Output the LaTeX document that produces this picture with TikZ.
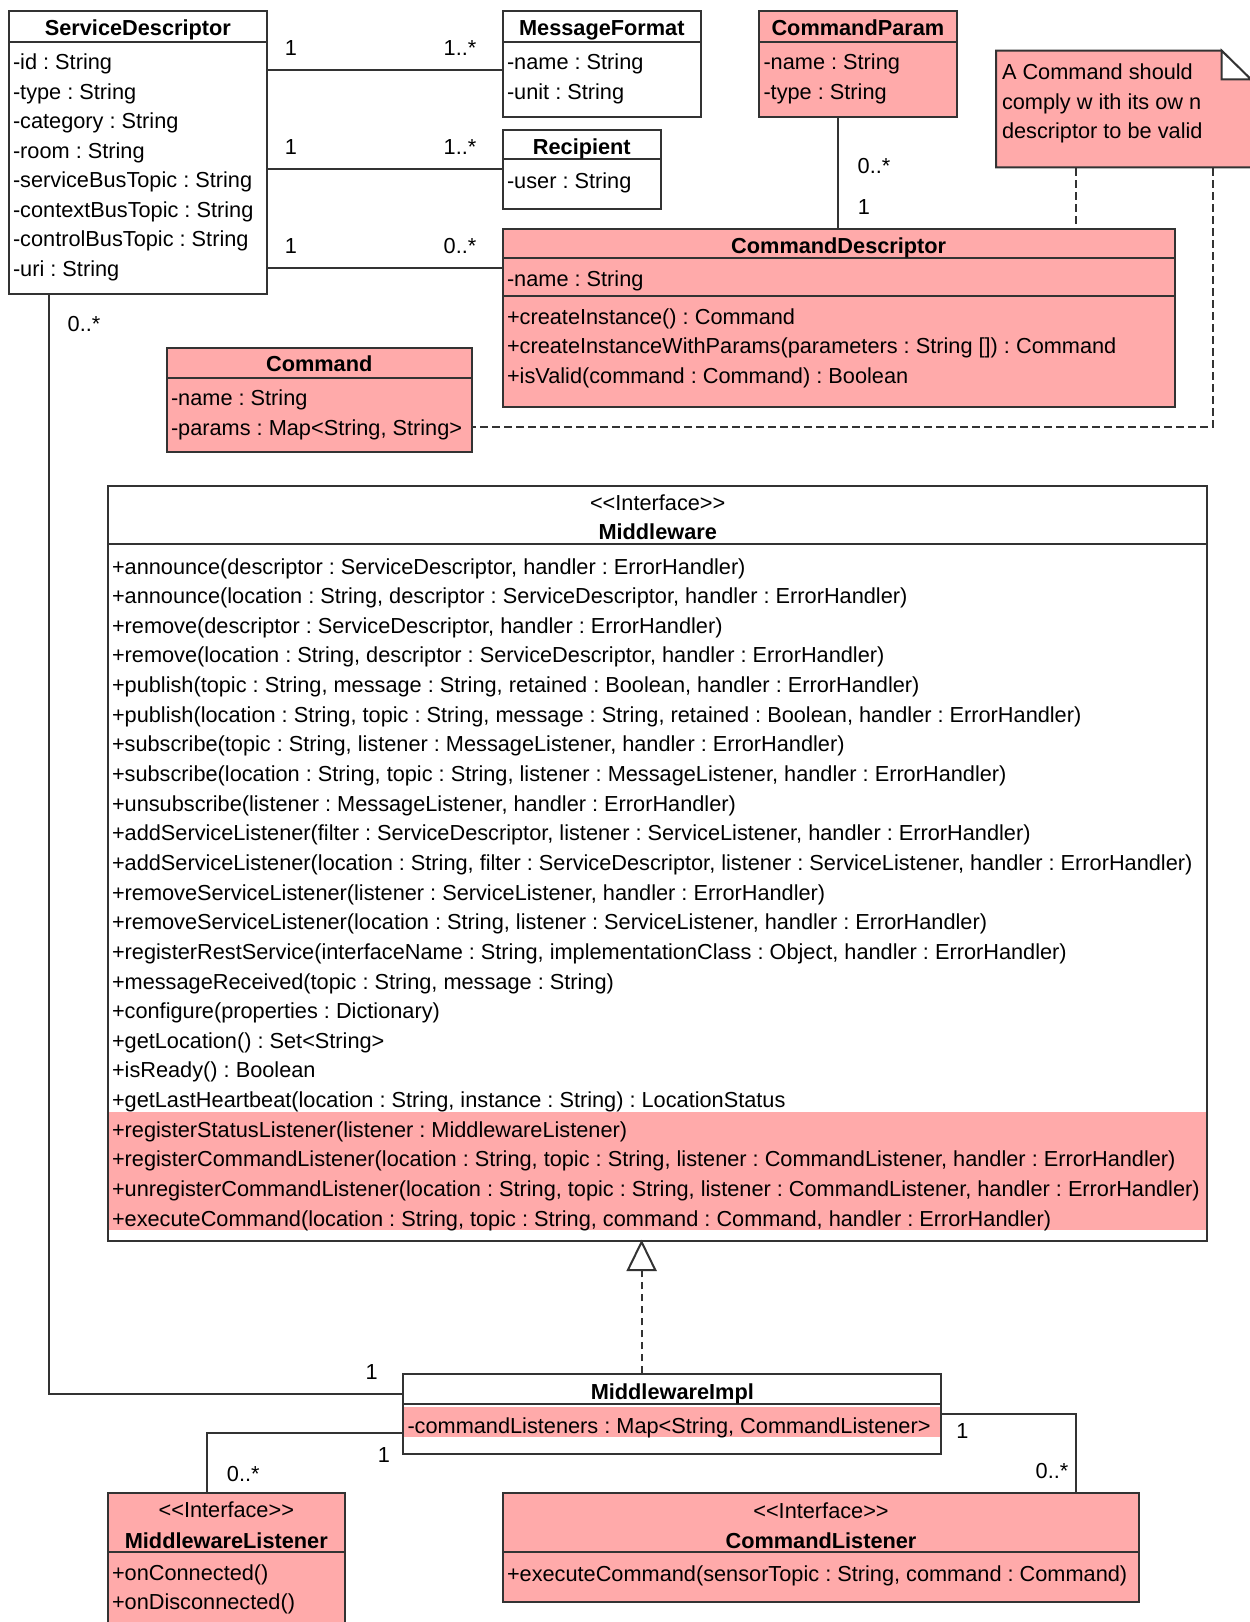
\documentclass[tikz,border=0pt]{standalone}
\usepackage{fontspec}
\setmainfont{Liberation Sans}[Ligatures=TeXOff]
\usetikzlibrary{fit}
\frenchspacing
\definecolor{umlpink}{RGB}{255,170,170}
\definecolor{umlline}{RGB}{51,51,51}
\newcommand\umlsize{\fontsize{16.3}{20}\selectfont}
\tikzset{every picture/.style={line width=1.5pt}}
\tikzset{
  classbox/.style={draw=umlline, inner sep=0pt},
  pinkbox/.style={classbox, fill=umlpink},
  txt/.style={anchor=base west, inner sep=0pt},
  ttl/.style={anchor=base, inner sep=0pt, font=\umlsize\bfseries},
  stereo/.style={anchor=base, inner sep=0pt},
  mult/.style={anchor=base, inner sep=0pt},
  assoc/.style={draw=umlline},
  depend/.style={draw=umlline, dash pattern=on 5.5pt off 3.5pt},
}

\begin{document}
\begin{tikzpicture}[x=0.75pt,y=0.75pt,yscale=-1,xscale=1,font=\umlsize]
\useasboundingbox (0,0) rectangle (1250,1622);
\fill[white] (0,0) rectangle (1250,1622);
\clip (0,0) rectangle (1250,1622);

%Class: ServiceDescriptor
\node[classbox, fit={(9,11) (266.7,294)}] (sd) {};
\draw[umlline] (9,41.7) -- (266.7,41.7) ;
\node[ttl] (sdT) at (137.9,35) {ServiceDescriptor};
\node[txt] (sd1) at (12,69.7) {-id : String};
\node[txt] (sd2) at (12,99.2) {-type : String};
\node[txt] (sd3) at (12,128.7) {-category : String};
\node[txt] (sd4) at (12,158.2) {-room : String};
\node[txt] (sd5) at (12,187.7) {-serviceBusTopic : String};
\node[txt] (sd6) at (12,217.2) {-contextBusTopic : String};
\node[txt] (sd7) at (12,246.7) {-controlBusTopic : String};
\node[txt] (sd8) at (12,276.2) {-uri : String};

%Class: MessageFormat
\node[classbox, fit={(502.7,11) (701,116.7)}] (mf) {};
\draw[umlline] (502.7,41.7) -- (701,41.7) ;
\node[ttl] (mfT) at (601.8,35) {MessageFormat};
\node[txt] (mf1) at (506,69.7) {-name : String};
\node[txt] (mf2) at (506,99.2) {-unit : String};

%Class: Recipient
\node[classbox, fit={(502.7,130) (661,209)}] (rc) {};
\draw[umlline] (502.7,159.3) -- (661,159.3) ;
\node[ttl] (rcT) at (581.8,154) {Recipient};
\node[txt] (rc1) at (506,188) {-user : String};

%Class: CommandParam
\node[pinkbox, fit={(759.3,11) (956.5,116.7)}] (cp) {};
\draw[umlline] (759.3,41.7) -- (956.5,41.7) ;
\node[ttl] (cpT) at (857.9,35) {CommandParam};
\node[txt] (cp1) at (762.5,69.7) {-name : String};
\node[txt] (cp2) at (762.5,99.2) {-type : String};

%Shape: Note
\draw[umlline, fill=umlpink] (996,50.7) -- (1221.7,50.7) -- (1251,80) -- (1251,167.3) -- (996,167.3) -- cycle ;
\draw[umlline, fill=white] (1221.7,50.7) -- (1221.7,79.3) -- (1251,79.3) -- cycle ;
\node[inner sep=0pt, fit={(996,50.7) (1251,167.3)}] (nt) {};
\node[txt] (nt1) at (1001,79.7) {A Command should};
\node[txt] (nt2) at (1001,109.7) {comply w ith its ow n};
\node[txt] (nt3) at (1001,138.5) {descriptor to be valid};

%Class: CommandDescriptor
\node[pinkbox, fit={(502.7,228.7) (1174.7,406.7)}] (cd) {};
\draw[umlline] (502.7,258.3) -- (1174.7,258.3) ;
\draw[umlline] (502.7,295.7) -- (1174.7,295.7) ;
\node[ttl] (cdT) at (838.7,253) {CommandDescriptor};
\node[txt] (cd1) at (506,286.3) {-name : String};
\node[txt] (cd2) at (506,324) {+createInstance() : Command};
\node[txt] (cd3) at (506,353.7) {+createInstanceWithParams(parameters : String []) : Command};
\node[txt] (cd4) at (506,383) {+isValid(command : Command) : Boolean};

%Class: Command
\node[pinkbox, fit={(166.7,347.7) (471.7,452)}] (cm) {};
\draw[umlline] (166.7,377.7) -- (471.7,377.7) ;
\node[ttl] (cmT) at (319.2,371.3) {Command};
\node[txt] (cm1) at (170,405) {-name : String};
\node[txt] (cm2) at (170,435) {-params : Map<String, String>};

%Interface: Middleware
\fill[umlpink] (108,1111.7) rectangle (1207.3,1229.5) ;
\node[classbox, fit={(108,485.7) (1207.3,1241)}] (mw) {};
\draw[umlline] (108,544.3) -- (1207.3,544.3) ;
\node[stereo] (mwS) at (657.7,510) {<<Interface>>};
\node[ttl] (mwT) at (657.7,539.7) {Middleware};
\node[txt] (mw1) at (111,574) {+announce(descriptor : ServiceDescriptor, handler : ErrorHandler)};
\node[txt] (mw2) at (111,603.6) {+announce(location : String, descriptor : ServiceDescriptor, handler : ErrorHandler)};
\node[txt] (mw3) at (111,633.3) {+remove(descriptor : ServiceDescriptor, handler : ErrorHandler)};
\node[txt] (mw4) at (111,662.9) {+remove(location : String, descriptor : ServiceDescriptor, handler : ErrorHandler)};
\node[txt] (mw5) at (111,692.6) {+publish(topic : String, message : String, retained : Boolean, handler : ErrorHandler)};
\node[txt] (mw6) at (111,722.2) {+publish(location : String, topic : String, message : String, retained : Boolean, handler : ErrorHandler)};
\node[txt] (mw7) at (111,751.8) {+subscribe(topic : String, listener : MessageListener, handler : ErrorHandler)};
\node[txt] (mw8) at (111,781.5) {+subscribe(location : String, topic : String, listener : MessageListener, handler : ErrorHandler)};
\node[txt] (mw9) at (111,811.1) {+unsubscribe(listener : MessageListener, handler : ErrorHandler)};
\node[txt] (mw10) at (111,840.8) {+addServiceListener(filter : ServiceDescriptor, listener : ServiceListener, handler : ErrorHandler)};
\node[txt] (mw11) at (111,870.4) {+addServiceListener(location : String, filter : ServiceDescriptor, listener : ServiceListener, handler : ErrorHandler)};
\node[txt] (mw12) at (111,900) {+removeServiceListener(listener : ServiceListener, handler : ErrorHandler)};
\node[txt] (mw13) at (111,929.7) {+removeServiceListener(location : String, listener : ServiceListener, handler : ErrorHandler)};
\node[txt] (mw14) at (111,959.3) {+registerRestService(interfaceName : String, implementationClass : Object, handler : ErrorHandler)};
\node[txt] (mw15) at (111,989) {+messageReceived(topic : String, message : String)};
\node[txt] (mw16) at (111,1018.6) {+configure(properties : Dictionary)};
\node[txt] (mw17) at (111,1048.2) {+getLocation() : Set<String>};
\node[txt] (mw18) at (111,1077.9) {+isReady() : Boolean};
\node[txt] (mw19) at (111,1107.5) {+getLastHeartbeat(location : String, instance : String) : LocationStatus};
\node[txt] (mw20) at (111,1137.2) {+registerStatusListener(listener : MiddlewareListener)};
\node[txt] (mw21) at (111,1166.8) {+registerCommandListener(location : String, topic : String, listener : CommandListener, handler : ErrorHandler)};
\node[txt] (mw22) at (111,1196.4) {+unregisterCommandListener(location : String, topic : String, listener : CommandListener, handler : ErrorHandler)};
\node[txt] (mw23) at (111,1226) {+executeCommand(location : String, topic : String, command : Command, handler : ErrorHandler)};

%Class: MiddlewareImpl
\fill[umlpink] (403.3,1406.7) rectangle (941.3,1437.3) ;
\node[classbox, fit={(403.3,1374.3) (941.3,1454)}] (mi) {};
\draw[umlline] (403.3,1404) -- (941.3,1404) ;
\node[ttl] (miT) at (672.3,1399.7) {MiddlewareImpl};
\node[txt] (mi1) at (406.5,1433) {-commandListeners : Map<String, CommandListener>};

%Interface: MiddlewareListener
\node[pinkbox, fit={(107.7,1492.7) (345,1660)}] (ml) {};
\draw[umlline] (107.7,1552.3) -- (345,1552.3) ;
\node[stereo] (mlS) at (226.3,1517) {<<Interface>>};
\node[ttl] (mlT) at (226.3,1548) {MiddlewareListener};
\node[txt] (ml1) at (111,1580.7) {+onConnected()};
\node[txt] (ml2) at (111,1609.7) {+onDisconnected()};

%Interface: CommandListener
\node[pinkbox, fit={(503,1493.3) (1139,1602.3)}] (cl) {};
\draw[umlline] (503,1552.3) -- (1139,1552.3) ;
\node[stereo] (clS) at (821,1518) {<<Interface>>};
\node[ttl] (clT) at (821,1548) {CommandListener};
\node[txt] (cl1) at (506,1581.3) {+executeCommand(sensorTopic : String, command : Command)};

%Associations
\draw[assoc] (sd.east |- 0,70.3) -- (mf.west |- 0,70.3) ;
\node[mult] (m1a) at (291,55.7) {1};
\node[mult] (m1b) at (460,55.7) {1..*};
\draw[assoc] (sd.east |- 0,169.3) -- (rc.west |- 0,169.3) ;
\node[mult] (m2a) at (291,154) {1};
\node[mult] (m2b) at (460,154) {1..*};
\draw[assoc] (sd.east |- 0,267.7) -- (cd.west |- 0,267.7) ;
\node[mult] (m3a) at (291,253.7) {1};
\node[mult] (m3b) at (460,253.7) {0..*};
\draw[assoc] (cp.south -| 838.3,0) -- (cd.north -| 838.3,0) ;
\node[mult] (m4a) at (874,173.7) {0..*};
\node[mult] (m4b) at (864,214) {1};
\draw[assoc] (sd.south -| 49,0) -- (49,1394.3) -- (mi.west |- 0,1394.3) ;
\node[mult] (m5a) at (84,331) {0..*};
\node[mult] (m5b) at (371.7,1379.7) {1};
\draw[assoc] (mi.west |- 0,1433.3) -- (206.7,1433.3) -- (ml.north -| 206.7,0) ;
\node[mult] (m6a) at (384,1462) {1};
\node[mult] (m6b) at (243.3,1481.3) {0..*};
\draw[assoc] (mi.east |- 0,1414) -- (1075.7,1414) -- (cl.north -| 1075.7,0) ;
\node[mult] (m7a) at (962.3,1438.7) {1};
\node[mult] (m7b) at (1052,1478) {0..*};

%Note anchors
\draw[depend] (nt.south -| 1075.7,0) -- (cd.north -| 1075.7,0) ;
\draw[depend] (nt.south -| 1213.3,0) -- (1213.3,426.7) -- (cm.east |- 0,426.7) ;

%Realization
\draw[depend] (mi.north -| 641.6,0) -- (641.6,1270) ;
\draw[umlline, fill=white] (mw.south -| 641.6,0) -- (655.3,1270) -- (627.9,1270) -- cycle ;
\end{tikzpicture}
\end{document}
